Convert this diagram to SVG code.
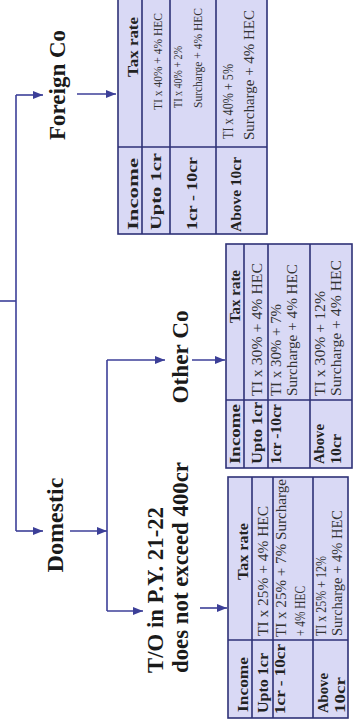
<svg xmlns="http://www.w3.org/2000/svg" width="360" height="722" viewBox="0 0 360 722">
<style>
.lbl{font-family:"Liberation Serif",serif;font-weight:bold;font-size:23px;fill:#1a1a1a}
.th{font-family:"Liberation Serif",serif;font-weight:bold;font-size:15px;fill:#222}
.td{font-family:"Liberation Serif",serif;font-size:14px;fill:#333}
.sm{font-size:13px}
.tbl{fill:#d9d9f5;stroke:#2e3177;stroke-width:1.6}
.grid{stroke:#2e3177;stroke-width:1.6;fill:none}
.conn{stroke:#3c3f98;stroke-width:1.6;fill:none}
.arr{marker-end:url(#ah)}
</style>
<defs>
<marker id="ah" markerWidth="10" markerHeight="8" refX="10" refY="4" orient="auto" markerUnits="userSpaceOnUse">
<path d="M0,0 L10,4 L0,8 Z" fill="#3c3f98"/>
</marker>
</defs>
<rect width="360" height="722" fill="#ffffff"/>
<g transform="translate(0,722) rotate(-90)">
<g id="connectors">
<path class="conn" d="M421,0 L421,16"/>
<path class="conn" d="M191,16 L627,16"/>
<path class="conn arr" d="M627,16 L627,43"/>
<path class="conn arr" d="M191,16 L191,43"/>
<path class="conn arr" d="M628,77 L628,116"/>
<path class="conn arr" d="M191,70 L191,107"/>
<path class="conn" d="M111,107 L362,107"/>
<path class="conn arr" d="M362,107 L362,165"/>
<path class="conn arr" d="M362,192 L362,225"/>
<path class="conn arr" d="M111,107 L111,143"/>
<path class="conn arr" d="M114,200 L114,227"/>
</g>
<g id="foreign-co"><text class="lbl" x="637" y="65" text-anchor="middle" textLength="110" lengthAdjust="spacingAndGlyphs">Foreign Co</text></g>
<g id="domestic"><text class="lbl" x="197" y="63" text-anchor="middle" textLength="95" lengthAdjust="spacingAndGlyphs">Domestic</text></g>
<g id="other-co"><text class="lbl" x="365" y="188" text-anchor="middle" textLength="93" lengthAdjust="spacingAndGlyphs">Other Co</text></g>
<g id="turnover">
<text class="lbl" x="49" y="163" textLength="166" lengthAdjust="spacingAndGlyphs">T/O in P.Y. 21-22</text>
<text class="lbl" x="49" y="188" textLength="211" lengthAdjust="spacingAndGlyphs">does not exceed 400cr</text>
</g>
<g id="foreign-table">
<rect class="tbl" x="488" y="118" width="262" height="149"/>
<path class="grid" d="M575,118 V267 M488,142 H750 M488,170 H750 M488,216 H750"/>
<text class="th" x="492" y="138" textLength="72" lengthAdjust="spacingAndGlyphs">Income</text>
<text class="th" x="645" y="138" textLength="60" lengthAdjust="spacingAndGlyphs">Tax rate</text>
<text class="th" x="492" y="161" textLength="77" lengthAdjust="spacingAndGlyphs">Upto 1cr</text>
<text class="td sm" x="612" y="162" textLength="97" lengthAdjust="spacingAndGlyphs">TI x 40% + 4% HEC</text>
<text class="th" x="492" y="197" textLength="73" lengthAdjust="spacingAndGlyphs">1cr - 10cr</text>
<text class="td sm" x="614" y="182" textLength="62" lengthAdjust="spacingAndGlyphs">TI x 40% + 2%</text>
<text class="td sm" x="614" y="202" textLength="100" lengthAdjust="spacingAndGlyphs">Surcharge + 4% HEC</text>
<text class="th" x="490" y="241" textLength="75" lengthAdjust="spacingAndGlyphs">Above 10cr</text>
<text class="td" x="583" y="233" textLength="75" lengthAdjust="spacingAndGlyphs">TI x 40% + 5%</text>
<text class="td" x="582" y="254" textLength="130" lengthAdjust="spacingAndGlyphs">Surcharge + 4% HEC</text>
</g>
<g id="other-table">
<rect class="tbl" x="254" y="226" width="224" height="126"/>
<path class="grid" d="M322,226 V352 M254,244 H478 M254,268 H478 M254,310 H478"/>
<text class="th" x="258" y="240" textLength="60" lengthAdjust="spacingAndGlyphs">Income</text>
<text class="th" x="399" y="240" textLength="53" lengthAdjust="spacingAndGlyphs">Tax rate</text>
<text class="th" x="258" y="262" textLength="62" lengthAdjust="spacingAndGlyphs">Upto 1cr</text>
<text class="td" x="326" y="262" textLength="133" lengthAdjust="spacingAndGlyphs">TI x 30% + 4% HEC</text>
<text class="th" x="258" y="281" textLength="60" lengthAdjust="spacingAndGlyphs">1cr -10cr</text>
<text class="td" x="326" y="281" textLength="92" lengthAdjust="spacingAndGlyphs">TI x 30% + 7%</text>
<text class="td" x="326" y="297" textLength="132" lengthAdjust="spacingAndGlyphs">Surcharge + 4% HEC</text>
<text class="th" x="258" y="324" textLength="40" lengthAdjust="spacingAndGlyphs">Above</text>
<text class="th" x="258" y="341" textLength="30" lengthAdjust="spacingAndGlyphs">10cr</text>
<text class="td" x="326" y="325" textLength="105" lengthAdjust="spacingAndGlyphs">TI x 30% + 12%</text>
<text class="td" x="326" y="341" textLength="136" lengthAdjust="spacingAndGlyphs">Surcharge + 4% HEC</text>
</g>
<g id="turnover-table">
<rect class="tbl" x="4" y="228" width="241" height="120"/>
<path class="grid" d="M82,228 V348 M4,252 H245 M4,273 H245 M4,313 H245"/>
<text class="th" x="10" y="248" textLength="55" lengthAdjust="spacingAndGlyphs">Income</text>
<text class="th" x="142" y="248" textLength="57" lengthAdjust="spacingAndGlyphs">Tax rate</text>
<text class="th" x="9" y="268" textLength="60" lengthAdjust="spacingAndGlyphs">Upto 1cr</text>
<text class="td" x="86" y="268" textLength="130" lengthAdjust="spacingAndGlyphs">TI x 25% + 4% HEC</text>
<text class="th" x="8" y="285" textLength="70" lengthAdjust="spacingAndGlyphs">1cr - 10cr</text>
<text class="td" x="85" y="286" textLength="158" lengthAdjust="spacingAndGlyphs">TI x 25% + 7% Surcharge</text>
<text class="td" x="86" y="305" textLength="50" lengthAdjust="spacingAndGlyphs">+ 4% HEC</text>
<text class="th" x="9" y="328" textLength="40" lengthAdjust="spacingAndGlyphs">Above</text>
<text class="th" x="9" y="345" textLength="36" lengthAdjust="spacingAndGlyphs">10cr</text>
<text class="td" x="86" y="326" textLength="80" lengthAdjust="spacingAndGlyphs">TI x 25% + 12%</text>
<text class="td" x="86" y="342" textLength="126" lengthAdjust="spacingAndGlyphs">Surcharge + 4% HEC</text>
</g>
</g>
</svg>
